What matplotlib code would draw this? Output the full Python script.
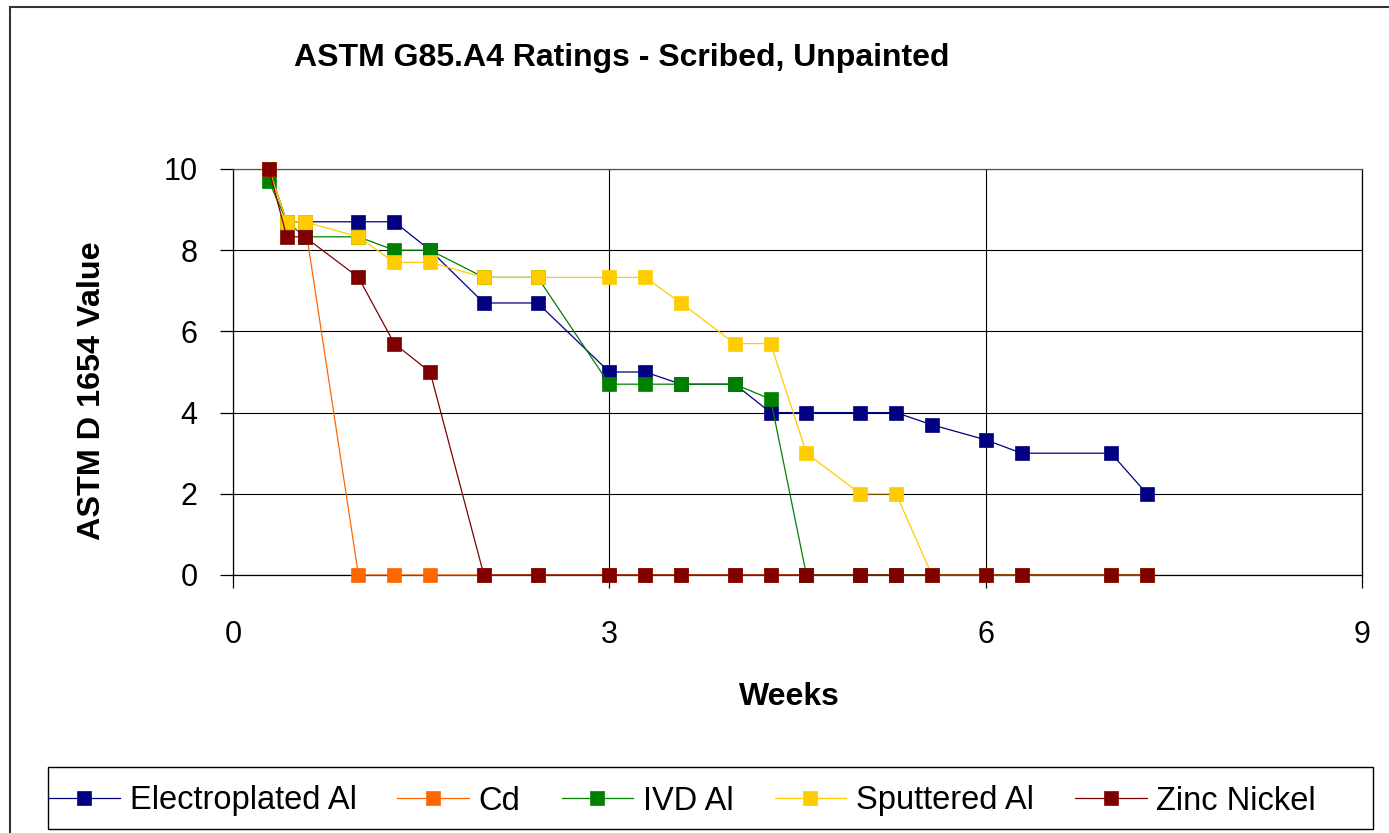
import matplotlib
matplotlib.use("Agg")
import matplotlib.pyplot as plt
from matplotlib.patches import Rectangle

plt.rcParams['font.family'] = ['Liberation Sans', 'DejaVu Sans']

# Sampling days converted to weeks
days = [2, 3, 4, 7, 9, 11, 14, 17, 21, 23, 25, 28, 30, 32, 35, 37, 39, 42, 44, 49, 51]
weeks = [d / 7 for d in days]

electroplated_al = [10, 8.7, 8.7, 8.7, 8.7, 8.0, 6.7, 6.7, 5.0, 5.0, 4.7, 4.7, 4.0, 4.0, 4.0, 4.0, 3.7, 3.33, 3.0, 3.0, 2.0]
cd = [10, 8.7, 8.7, 0, 0, 0, 0, 0, 0, 0, 0, 0, 0, 0, 0, 0, 0, 0, 0, 0, 0]
ivd_al = [9.7, 8.7, 8.33, 8.33, 8.0, 8.0, 7.33, 7.33, 4.7, 4.7, 4.7, 4.7, 4.33, 0, 0, 0, 0, 0, 0, 0, 0]
sputtered_al = [10, 8.7, 8.7, 8.33, 7.7, 7.7, 7.33, 7.33, 7.33, 7.33, 6.7, 5.7, 5.7, 3.0, 2.0, 2.0, 0, 0, 0, 0, 0]
zinc_nickel = [10, 8.33, 8.33, 7.33, 5.7, 5.0, 0, 0, 0, 0, 0, 0, 0, 0, 0, 0, 0, 0, 0, 0, 0]

series_names = ["Electroplated Al", "Cd", "IVD Al", "Sputtered Al", "Zinc Nickel"]
series_values = [electroplated_al, cd, ivd_al, sputtered_al, zinc_nickel]
series_colors = ["#000080", "#FF6600", "#008000", "#FFCC00", "#800000"]

x_ticks = [0, 3, 6, 9]
y_ticks = [0, 2, 4, 6, 8, 10]

W, H = 1389, 833
fig = plt.figure(figsize=(W / 100, H / 100), dpi=100)
fig.patch.set_facecolor("white")

# outer chart border (extends past right/bottom edges)
fig.patches.append(Rectangle((10 / W, -0.05), 1.2, 1 - 7 / H + 0.05,
                             transform=fig.transFigure, fill=False,
                             edgecolor="#333333", linewidth=1.5, clip_on=False))

ax = fig.add_axes([233 / W, 1 - 575 / H, (1362 - 233) / W, (575 - 169) / H])
ax.set_xlim(0, 9)
ax.set_ylim(0, 10)
ax.set_xticks(x_ticks)
ax.set_yticks(y_ticks)
ax.grid(True, color="black", linewidth=0.8)
ax.set_axisbelow(True)
for s in ax.spines.values():
    s.set_color("black")
    s.set_linewidth(0.9)
ax.spines['top'].set_color("#555555")
ax.tick_params(axis='both', direction='out', length=9.4, width=0.9, labelsize=22)
ax.tick_params(axis='y', pad=16)
ax.tick_params(axis='x', pad=23)

for name, vals, col in zip(series_names, series_values, series_colors):
    ax.plot(weeks, vals, color=col, linewidth=0.9, marker='s', markersize=9.4,
            markerfacecolor=col, markeredgecolor=col, markeredgewidth=0.5,
            label=name, clip_on=False, zorder=3)

fig.text(622 / W, 1 - 58 / H, "ASTM G85.A4 Ratings - Scribed, Unpainted",
         ha="center", va="center", fontsize=23, fontweight="bold")
fig.text(92 / W, 1 - 391 / H, "ASTM D 1654 Value", rotation=90,
         ha="center", va="center", fontsize=23.3, fontweight="bold")
fig.text(789 / W, 1 - 697 / H, "Weeks", ha="center", va="center",
         fontsize=23, fontweight="bold")

# legend frame
lx0, lx1, ly0, ly1 = 48, 1373, 767, 829
fig.patches.append(Rectangle((lx0 / W, 1 - ly1 / H), (lx1 - lx0) / W, (ly1 - ly0) / H,
                             transform=fig.transFigure, fill=False,
                             edgecolor="black", linewidth=1.0))
leg = fig.legend(loc="center left",
                 bbox_to_anchor=(lx0 / W, 1 - (ly1 + 3) / H, 0.5, (ly1 - ly0) / H),
                 ncol=5, fontsize=23.5, frameon=False,
                 handlelength=2.2, handletextpad=0.3, borderpad=0.0,
                 borderaxespad=0, columnspacing=1.25)

fig.savefig("out.png", dpi=100, facecolor="white")
